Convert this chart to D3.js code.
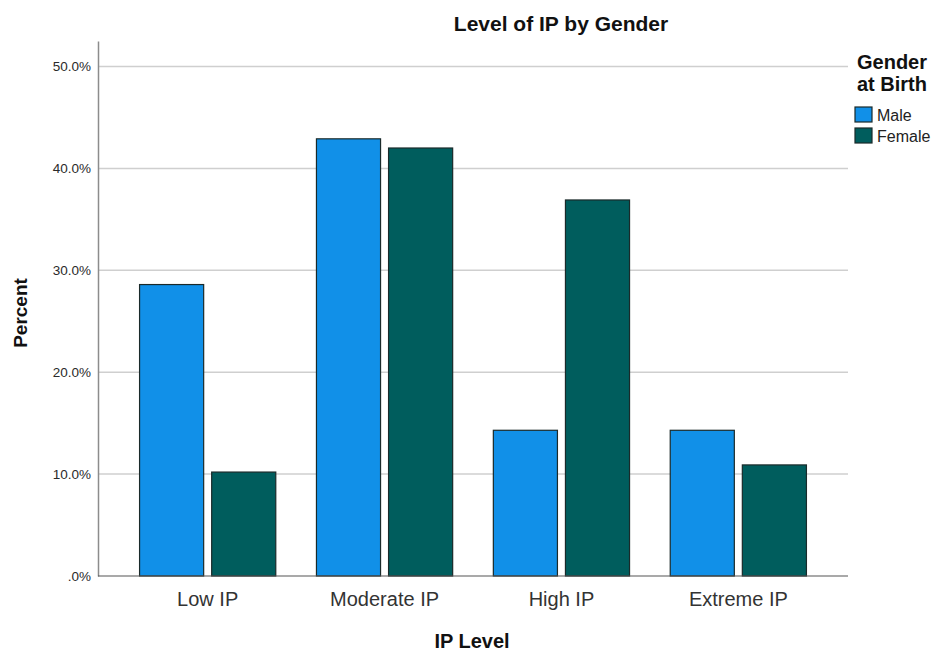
<!DOCTYPE html>
<html><head><meta charset="utf-8">
<script src="https://cdn.jsdelivr.net/npm/d3@7"></script>
<style>body{margin:0;background:#fff}svg{display:block}text{font-family:"Liberation Sans",Arial,sans-serif}</style>
</head><body><svg id="c" width="938" height="653"></svg>
<script>
const categories = ["Low IP","Moderate IP","High IP","Extreme IP"];
const seriesNames = ["Male","Female"];
const male = [28.6, 42.9, 14.3, 14.3];
const female = [10.2, 42.0, 36.9, 10.9];
const yTicks = [0,10,20,30,40,50];
const colors = ["#1190E8","#005D5D"];

const svg = d3.select("#c");
const m = {l:98, r:848, t:41, b:576};
const x0 = d3.scaleBand().domain(categories).range([m.l, m.r]).paddingInner(0.23).paddingOuter(0.235);
const x1 = d3.scaleBand().domain(seriesNames).range([0, x0.bandwidth()]).paddingInner(0.111);
const y = d3.scaleLinear().domain([0, 52.5]).range([m.b, m.t]);

// gridlines
svg.append("g").selectAll("line").data(yTicks.filter(d=>d>0)).join("line")
  .attr("x1", m.l).attr("x2", m.r).attr("y1", d=>y(d)).attr("y2", d=>y(d))
  .attr("stroke", "#cfcfcf").attr("stroke-width", 1.5);

// y axis
const yAxis = d3.axisLeft(y).tickValues(yTicks).tickSize(0).tickPadding(7)
  .tickFormat(d => d===0 ? ".0%" : d.toFixed(1)+"%");
const ya = svg.append("g").attr("transform", `translate(${m.l},0)`).call(yAxis);
ya.select(".domain").attr("stroke", "#8c8c8c").attr("stroke-width", 1.5);
ya.selectAll("text").attr("font-size", 13.5).attr("fill", "#2a2a2a");

// bars
const data = categories.map((c,i)=>({c, vals:[{s:"Male", v:male[i]},{s:"Female", v:female[i]}]}));
const g = svg.append("g").selectAll("g").data(data).join("g")
  .attr("transform", d=>`translate(${x0(d.c)},0)`);
g.selectAll("rect").data(d=>d.vals).join("rect")
  .attr("x", d=>x1(d.s)).attr("width", x1.bandwidth())
  .attr("y", d=>y(d.v)).attr("height", d=>y(0)-y(d.v))
  .attr("fill", (d,i)=>colors[i]).attr("stroke", "#1a2a2a").attr("stroke-width", 1.2);

// x axis
const xAxis = d3.axisBottom(x0).tickSize(0).tickPadding(16);
const xa = svg.append("g").attr("transform", `translate(0,${m.b})`).call(xAxis);
xa.select(".domain").attr("stroke", "#555").attr("stroke-width", 1.2).attr("d", `M${m.l},0H${m.r}`);
xa.selectAll("text").attr("font-size", 20).attr("fill", "#333");

// titles
svg.append("text").attr("x", 561).attr("y", 31).attr("text-anchor","middle")
  .attr("font-size", 21).attr("font-weight","bold").attr("fill","#111").text("Level of IP by Gender");
svg.append("text").attr("x", 472).attr("y", 648).attr("text-anchor","middle")
  .attr("font-size", 20).attr("font-weight","bold").attr("fill","#111").text("IP Level");
svg.append("text").attr("transform","translate(27,313) rotate(-90)").attr("text-anchor","middle")
  .attr("font-size", 19).attr("font-weight","bold").attr("fill","#111").text("Percent");

// legend
const lg = svg.append("g");
lg.append("text").attr("x", 857).attr("y", 69).attr("font-size", 20).attr("font-weight","bold").attr("fill","#111").text("Gender");
lg.append("text").attr("x", 857).attr("y", 91).attr("font-size", 20).attr("font-weight","bold").attr("fill","#111").text("at Birth");
const li = lg.selectAll("g.li").data(seriesNames).join("g").attr("class","li")
  .attr("transform", (d,i)=>`translate(855,${107+i*21})`);
li.append("rect").attr("width",17).attr("height",15).attr("fill",(d,i)=>colors[i]).attr("stroke","#1a2a2a").attr("stroke-width",1.2);
li.append("text").attr("x", 22).attr("y", 14).attr("font-size", 16).attr("fill","#222").text(d=>d);
</script></body></html>
